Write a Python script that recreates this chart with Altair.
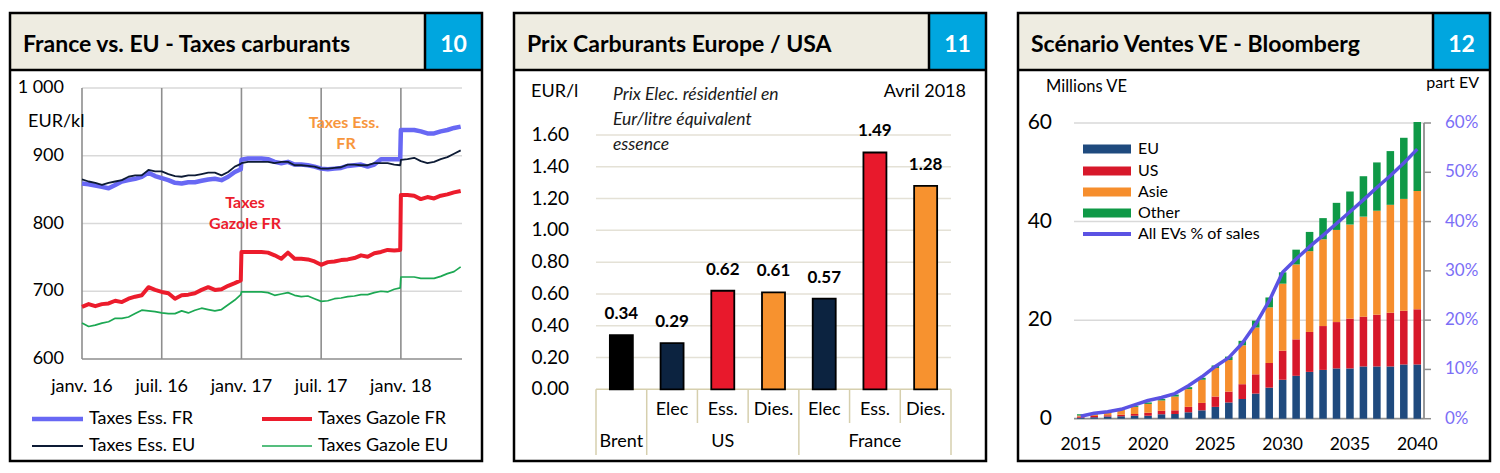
import altair as alt
import pandas as pd

W, H = 472, 448
HEAD = 57
BOX_X = 415
FONT = "Lato"
BEIGE = "#eeece1"
BLUE_BOX = "#00a6df"

# ---------------- Panel 1 data ----------------
p1_title = "France vs. EU - Taxes carburants"
p1_num = "10"
months = [0, 0.5, 1, 1.5, 2, 2.5, 3, 3.5, 4, 4.5, 5, 5.5, 6, 6.5, 7, 7.5, 8, 8.5, 9, 9.5,
          10, 10.5, 11, 11.5, 11.95, 12, 12.5, 13, 13.5, 14, 14.5, 15, 15.5, 16, 16.5, 17,
          17.5, 18, 18.5, 19, 19.5, 20, 20.5, 21, 21.5, 22, 22.5, 23, 23.5, 23.95, 24, 24.5,
          25, 25.5, 26, 26.5, 27, 27.5, 28, 28.5]
ess_fr = [859, 858, 856, 854, 852, 857, 862, 864, 866, 869, 875, 870, 867, 864, 860, 859, 861, 861,
          863, 865, 866, 864, 869, 876, 880, 894, 896, 896, 896, 895, 891, 889, 891, 887, 887, 886,
          884, 881, 880, 881, 882, 885, 886, 887, 884, 887, 895, 895, 895, 895, 938, 938, 938, 936,
          933, 933, 936, 938, 941, 943]
gaz_fr = [677, 681, 678, 681, 682, 686, 684, 689, 692, 694, 706, 702, 699, 697, 689, 694, 695, 697,
          702, 706, 702, 703, 708, 712, 716, 758, 758, 758, 758, 757, 753, 748, 757, 748, 748, 747,
          744, 739, 743, 744, 746, 747, 749, 753, 751, 756, 758, 761, 760, 761, 842, 842, 841, 836,
          839, 837, 841, 843, 846, 848]
ess_eu = [865, 862, 860, 857, 860, 862, 864, 869, 871, 871, 879, 877, 877, 873, 870, 869, 871, 871,
          873, 875, 875, 871, 876, 884, 888, 889, 891, 891, 891, 891, 889, 891, 891, 886, 886, 885,
          884, 881, 881, 882, 883, 887, 887, 886, 886, 889, 889, 889, 887, 886, 894, 895, 897, 892,
          889, 891, 895, 898, 903, 908]
gaz_eu = [653, 648, 650, 653, 655, 660, 660, 662, 667, 672, 671, 670, 668, 667, 667, 671, 668, 672,
          675, 673, 671, 673, 680, 687, 695, 699, 699, 699, 699, 698, 694, 696, 698, 694, 692, 693,
          689, 685, 686, 689, 690, 692, 693, 695, 695, 698, 700, 699, 703, 705, 721, 721, 721, 719,
          719, 719, 722, 726, 729, 736]
p1_series = ["Taxes Ess. FR", "Taxes Gazole FR", "Taxes Ess. EU", "Taxes Gazole EU"]
p1_colors = ["#6868f4", "#ec1c2c", "#0d1b35", "#1ca853"]
p1_widths = [4.5, 4.0, 1.8, 1.7]
p1_yticks = [600, 700, 800, 900, 1000]
p1_ylabels = ["600", "700", "800", "900", "1 000"]
p1_xticks = [0, 6, 12, 18, 24]
p1_xlabels = ["janv. 16", "juil. 16", "janv. 17", "juil. 17", "janv. 18"]

# ---------------- Panel 2 data ----------------
p2_title = "Prix Carburants Europe / USA"
p2_num = "11"
p2_slot = [0.5, 1.5, 2.5, 3.5, 4.5, 5.5, 6.5]
p2_cats = ["Brent", "Elec", "Ess.", "Dies.", "Elec", "Ess.", "Dies."]
p2_values = [0.34, 0.29, 0.62, 0.61, 0.57, 1.49, 1.28]
p2_colors = ["#000000", "#0c2340", "#e8192c", "#f7922f", "#0c2340", "#e8192c", "#f7922f"]
p2_groups = ["Brent", "US", "France"]
p2_group_pos = [0.5, 2.5, 5.5]
p2_sep = [0, 1, 2, 3, 4, 5, 6, 7]
p2_sep_long = [1, 1, 0, 0, 1, 0, 0, 1]
p2_yticks = [0.0, 0.2, 0.4, 0.6, 0.8, 1.0, 1.2, 1.4, 1.6]
p2_note = ["Prix Elec. résidentiel en", "Eur/litre équivalent", "essence"]

# ---------------- Panel 3 data ----------------
p3_title = "Scénario Ventes VE - Bloomberg"
p3_num = "12"
years = [2015, 2016, 2017, 2018, 2019, 2020, 2021, 2022, 2023, 2024, 2025, 2026, 2027,
         2028, 2029, 2030, 2031, 2032, 2033, 2034, 2035, 2036, 2037, 2038, 2039, 2040]
eu = [0.2, 0.3, 0.45, 0.5, 0.6, 0.6, 0.9, 0.95, 1.3, 1.7, 2.4, 3.3, 4.0, 5.1, 6.3, 7.9, 8.7,
      9.5, 9.9, 10.2, 10.2, 10.6, 10.6, 10.6, 11.0, 11.0]
us = [0.25, 0.25, 0.25, 0.3, 0.35, 0.6, 0.7, 0.75, 1.1, 1.5, 2.1, 2.2, 3.0, 3.9, 5.0, 5.9, 7.4,
      8.1, 8.9, 9.4, 10.1, 10.1, 10.5, 10.9, 10.9, 11.2]
asie = [0.2, 0.35, 0.5, 1.0, 1.45, 1.8, 2.1, 2.8, 3.6, 4.7, 5.8, 6.4, 7.9, 9.5, 11.3, 13.6, 15.2,
        16.4, 17.6, 18.7, 19.1, 20.3, 21.1, 21.9, 22.7, 24.0]
other = [0.25, 0.1, 0.15, 0.2, 0.2, 0.3, 0.3, 0.4, 0.4, 0.4, 0.5, 0.7, 0.9, 1.4, 2.0, 2.3, 3.0,
         3.9, 4.3, 5.5, 6.7, 8.2, 9.8, 10.9, 12.4, 14.0]
ev_share = [0.5, 1.1, 1.4, 1.9, 2.8, 3.7, 4.3, 5.1, 6.7, 8.5, 10.6, 12.4, 15.3, 19.2, 23.9, 29.7,
            32.4, 34.9, 37.2, 39.6, 42.0, 44.4, 46.9, 49.3, 51.9, 54.7]
p3_regions = ["EU", "US", "Asie", "Other"]
p3_colors = ["#1f4a7e", "#d7182a", "#f68e2d", "#0f9947"]
p3_line_name = "All EVs % of sales"
p3_line_color = "#5b52e3"
p3_yticks = [0, 20, 40, 60]
p3_rticks = [0, 10, 20, 30, 40, 50, 60]
p3_xticks = [2015, 2020, 2025, 2030, 2035, 2040]

one = alt.Data(values=[{"k": 1}])


def txt(text, x, y, size, **kw):
    return alt.Chart(one).mark_text(text=text, font=FONT, fontSize=size, **kw).encode(
        x=alt.value(x), y=alt.value(y))


def header_frame(title, num):
    base = alt.Chart(one)
    bg = base.mark_rect(fill=BEIGE).encode(x=alt.value(0), x2=alt.value(W), y=alt.value(0), y2=alt.value(HEAD))
    box = base.mark_rect(fill=BLUE_BOX).encode(x=alt.value(BOX_X), x2=alt.value(W), y=alt.value(0), y2=alt.value(HEAD))
    hl = base.mark_rule(color="black", strokeWidth=2.5).encode(x=alt.value(0), x2=alt.value(W), y=alt.value(HEAD))
    vl = base.mark_rule(color="black", strokeWidth=2.5).encode(x=alt.value(BOX_X), y=alt.value(0), y2=alt.value(HEAD))
    t1 = txt(title, 13, 39, 23, fontWeight="bold", align="left", baseline="alphabetic", color="black")
    t2 = txt(num, (BOX_X + W) / 2, 39, 23, fontWeight="bold", align="center", baseline="alphabetic", color="white")
    return [bg, box, hl, vl, t1, t2]


def frame():
    return alt.Chart(one).mark_rect(filled=False, stroke="black", strokeWidth=2.5).encode(
        x=alt.value(0), x2=alt.value(W), y=alt.value(0), y2=alt.value(H))


# ---------------- Panel 1 ----------------
xs1 = alt.Scale(domain=[0, 28.6], range=[72, 452], nice=False, zero=False)
ys1 = alt.Scale(domain=[600, 1000], range=[346, 75], nice=False, zero=False)

hgrid1 = alt.Chart(pd.DataFrame({"v": p1_yticks[1:]})).mark_rule(color="#d9d9d9", strokeWidth=1.5).encode(
    x=alt.X(datum=0, scale=xs1, axis=None), x2=alt.X2(datum=28.6),
    y=alt.Y("v:Q", scale=ys1, axis=None))
vgrid1 = alt.Chart(pd.DataFrame({"t": p1_xticks})).mark_rule(color="#8e8e8e", strokeWidth=1.6).encode(
    x=alt.X("t:Q", scale=xs1, axis=None),
    y=alt.Y(datum=600, scale=ys1, axis=None), y2=alt.Y2(datum=1000))
base1 = alt.Chart(one).mark_rule(color="#8e8e8e", strokeWidth=1.6).encode(
    x=alt.X(datum=0, scale=xs1, axis=None), x2=alt.X2(datum=28.6),
    y=alt.Y(datum=600, scale=ys1, axis=None))

series_vals = [ess_fr, gaz_fr, ess_eu, gaz_eu]
line_layers = []
for name, vals, col, wd in zip(p1_series, series_vals, p1_colors, p1_widths):
    df = pd.DataFrame({"t": months, "v": vals})
    line_layers.append(alt.Chart(df).mark_line(color=col, strokeWidth=wd, strokeJoin="round").encode(
        x=alt.X("t:Q", scale=xs1, axis=None), y=alt.Y("v:Q", scale=ys1, axis=None)))

ylab1 = alt.Chart(pd.DataFrame({"v": p1_yticks, "lab": p1_ylabels})).mark_text(
    font=FONT, fontSize=18, align="right", baseline="middle", color="black").encode(
    x=alt.value(54), y=alt.Y("v:Q", scale=ys1, axis=None), text="lab:N")
xlab1 = alt.Chart(pd.DataFrame({"t": p1_xticks, "lab": p1_xlabels})).mark_text(
    font=FONT, fontSize=18, align="center", baseline="middle", color="black").encode(
    x=alt.X("t:Q", scale=xs1, axis=None), y=alt.value(374), text="lab:N")

leg1 = []
leg_pos = [(22, 73, 79, 406), (252, 302, 308, 406), (22, 73, 79, 433), (252, 302, 308, 433)]
for name, col, wd, (x1, x2, xt, yy) in zip(p1_series, p1_colors, p1_widths, leg_pos):
    leg1.append(alt.Chart(one).mark_rule(color=col, strokeWidth=wd).encode(
        x=alt.value(x1), x2=alt.value(x2), y=alt.value(yy)))
    leg1.append(txt(name, xt, yy, 18, align="left", baseline="middle", color="black"))

ann1 = [
    txt("EUR/kl", 18, 109, 18, align="left", baseline="middle", color="black"),
    txt("Taxes Ess.", 334, 110, 16, fontWeight="bold", align="center", baseline="middle", color="#f7963c"),
    txt("FR", 336, 131, 16, fontWeight="bold", align="center", baseline="middle", color="#f7963c"),
    txt("Taxes", 235, 190, 16, fontWeight="bold", align="center", baseline="middle", color="#ec1c2c"),
    txt("Gazole FR", 235, 211, 16, fontWeight="bold", align="center", baseline="middle", color="#ec1c2c"),
]

p1 = alt.layer(
    *header_frame(p1_title, p1_num), hgrid1, vgrid1, base1,
    line_layers[0], line_layers[1], line_layers[2], line_layers[3],
    ylab1, xlab1, *ann1, *leg1, frame()
).properties(width=W, height=H)

# ---------------- Panel 2 ----------------
xs2 = alt.Scale(domain=[0, 7], range=[77, 442], nice=False, zero=False)
ys2 = alt.Scale(domain=[0, 1.6], range=[376.3, 122], nice=False)

df2 = pd.DataFrame({"p": p2_slot, "cat": p2_cats, "v": p2_values, "c": p2_colors})
grid2 = alt.Chart(pd.DataFrame({"v": p2_yticks[1:]})).mark_rule(color="#e4e1d6", strokeWidth=1.5).encode(
    x=alt.X(datum=0, scale=xs2, axis=None), x2=alt.X2(datum=7),
    y=alt.Y("v:Q", scale=ys2, axis=None))
axis2 = alt.Chart(one).mark_rule(color="#d6cfae", strokeWidth=1.5).encode(
    x=alt.X(datum=0, scale=xs2, axis=None), x2=alt.X2(datum=7),
    y=alt.Y(datum=0, scale=ys2, axis=None))
sep_df = pd.DataFrame({"p": p2_sep, "long": p2_sep_long})
sep_short = alt.Chart(sep_df).transform_filter("datum.long == 0").mark_rule(color="#d6cfae", strokeWidth=1.5).encode(
    x=alt.X("p:Q", scale=xs2, axis=None), y=alt.value(376.3), y2=alt.value(410))
sep_long = alt.Chart(sep_df).transform_filter("datum.long == 1").mark_rule(color="#d6cfae", strokeWidth=1.5).encode(
    x=alt.X("p:Q", scale=xs2, axis=None), y=alt.value(376.3), y2=alt.value(442))
bars2 = alt.Chart(df2).mark_bar(size=23, stroke="black", strokeWidth=1.8).encode(
    x=alt.X("p:Q", scale=xs2, axis=None), y=alt.Y("v:Q", scale=ys2, axis=None),
    fill=alt.Fill("c:N", scale=None))
vlab2 = alt.Chart(df2).mark_text(font=FONT, fontSize=17, fontWeight="bold", dy=-21,
                                 align="center", baseline="middle", color="black").encode(
    x=alt.X("p:Q", scale=xs2, axis=None), y=alt.Y("v:Q", scale=ys2, axis=None),
    text=alt.Text("v:Q", format=".2f"))
ylab2 = alt.Chart(pd.DataFrame({"v": p2_yticks})).mark_text(
    font=FONT, fontSize=19, align="right", baseline="middle", color="black").encode(
    x=alt.value(55), y=alt.Y("v:Q", scale=ys2, axis=None), text=alt.Text("v:Q", format=".2f"))
sublab2 = alt.Chart(df2).transform_filter("datum.cat != 'Brent'").mark_text(
    font=FONT, fontSize=18, align="center", baseline="middle", color="black").encode(
    x=alt.X("p:Q", scale=xs2, axis=None), y=alt.value(397), text="cat:N")
grplab2 = alt.Chart(pd.DataFrame({"p": p2_group_pos, "g": p2_groups})).mark_text(
    font=FONT, fontSize=18, align="center", baseline="middle", color="black").encode(
    x=alt.X("p:Q", scale=xs2, axis=None), y=alt.value(429), text="g:N")
ann2 = [
    txt("EUR/l", 17, 79, 18, align="left", baseline="middle", color="black"),
    txt("Avril 2018", 452, 79, 18, align="right", baseline="middle", color="black"),
    txt(p2_note[0], 99, 82, 17.5, fontStyle="italic", align="left", baseline="middle", color="#1a1a1a"),
    txt(p2_note[1], 99, 107, 17.5, fontStyle="italic", align="left", baseline="middle", color="#1a1a1a"),
    txt(p2_note[2], 99, 132, 17.5, fontStyle="italic", align="left", baseline="middle", color="#1a1a1a"),
]

p2 = alt.layer(
    *header_frame(p2_title, p2_num), grid2, axis2, sep_short, sep_long, bars2, vlab2,
    ylab2, sublab2, grplab2, *ann2, frame()
).properties(width=W, height=H)

# ---------------- Panel 3 ----------------
xs3 = alt.Scale(type="band", domain=years, range=[56, 406], paddingInner=0.44, paddingOuter=0.22)
ys3 = alt.Scale(domain=[0, 60], range=[405.7, 110], nice=False)

rows = []
for i, y in enumerate(years):
    for k, (reg, arr) in enumerate(zip(p3_regions, [eu, us, asie, other])):
        rows.append({"year": y, "region": reg, "value": arr[i], "order": k})
df3 = pd.DataFrame(rows)
df3l = pd.DataFrame({"year": years, "share": ev_share})

grid3 = alt.Chart(pd.DataFrame({"v": p3_yticks[1:]})).mark_rule(color="#d9d9d9", strokeWidth=1.5).encode(
    x=alt.value(56), x2=alt.value(406), y=alt.Y("v:Q", scale=ys3, axis=None))
base3 = alt.Chart(one).mark_rule(color="#8e8e8e", strokeWidth=1.8).encode(
    x=alt.value(56), x2=alt.value(406), y=alt.Y(datum=0, scale=ys3, axis=None))
raxis3 = alt.Chart(one).mark_rule(color="#8e8e8e", strokeWidth=1.8).encode(
    x=alt.value(406), y=alt.Y(datum=0, scale=ys3, axis=None), y2=alt.Y2(datum=60))
rticks3 = alt.Chart(pd.DataFrame({"v": p3_rticks})).mark_rule(color="#8e8e8e", strokeWidth=1.5).encode(
    x=alt.value(406), x2=alt.value(413), y=alt.Y("v:Q", scale=ys3, axis=None))
bars3 = alt.Chart(df3).mark_bar().encode(
    x=alt.X("year:O", scale=xs3, axis=None),
    y=alt.Y("value:Q", scale=ys3, axis=None, stack="zero"),
    color=alt.Color("region:N", scale=alt.Scale(domain=p3_regions, range=p3_colors), legend=None),
    order=alt.Order("order:Q"))
line3 = alt.Chart(df3l).mark_line(color=p3_line_color, strokeWidth=3.5, strokeJoin="round").encode(
    x=alt.X("year:O", scale=xs3, axis=None), y=alt.Y("share:Q", scale=ys3, axis=None))
ylab3 = alt.Chart(pd.DataFrame({"v": p3_yticks})).mark_text(
    font=FONT, fontSize=21, align="right", baseline="middle", color="black").encode(
    x=alt.value(34), y=alt.Y("v:Q", scale=ys3, axis=None), text=alt.Text("v:Q", format="d"))
rlab3 = alt.Chart(pd.DataFrame({"v": p3_rticks})).transform_calculate(
    lab="datum.v + '%'").mark_text(
    font=FONT, fontSize=17, align="left", baseline="middle", color="#7b6ef6").encode(
    x=alt.value(427), y=alt.Y("v:Q", scale=ys3, axis=None), text="lab:N")
xlab3 = alt.Chart(pd.DataFrame({"year": p3_xticks})).mark_text(
    font=FONT, fontSize=17.5, align="center", baseline="middle", color="black").encode(
    x=alt.X("year:O", scale=xs3, axis=None), y=alt.value(432), text=alt.Text("year:O"))

leg3 = []
leg_rows = [136, 158, 179, 200]
for reg, col, yy in zip(p3_regions, p3_colors, leg_rows):
    leg3.append(alt.Chart(one).mark_rect(fill=col).encode(
        x=alt.value(65), x2=alt.value(113), y=alt.value(yy - 4.5), y2=alt.value(yy + 4.5)))
    leg3.append(txt(reg, 120, yy, 16, align="left", baseline="middle", color="black"))
leg3.append(alt.Chart(one).mark_rule(color=p3_line_color, strokeWidth=4).encode(
    x=alt.value(65), x2=alt.value(113), y=alt.value(221)))
leg3.append(txt(p3_line_name, 120, 221, 16, align="left", baseline="middle", color="black"))

ann3 = [
    txt("Millions VE", 28, 74, 16.5, align="left", baseline="middle", color="black"),
    txt("part EV", 461, 70, 16, align="right", baseline="middle", color="black"),
]

p3 = alt.layer(
    *header_frame(p3_title, p3_num), grid3, base3, raxis3, rticks3, bars3, line3,
    ylab3, rlab3, xlab3, *leg3, *ann3, frame()
).properties(width=W, height=H)

chart = alt.hconcat(p1, p2, p3, spacing=28).properties(
    padding={"left": 0, "top": 3, "right": 0, "bottom": 0}
).configure_view(strokeWidth=0)

chart.save("out.html", embed_options={"renderer": "svg", "actions": False})
